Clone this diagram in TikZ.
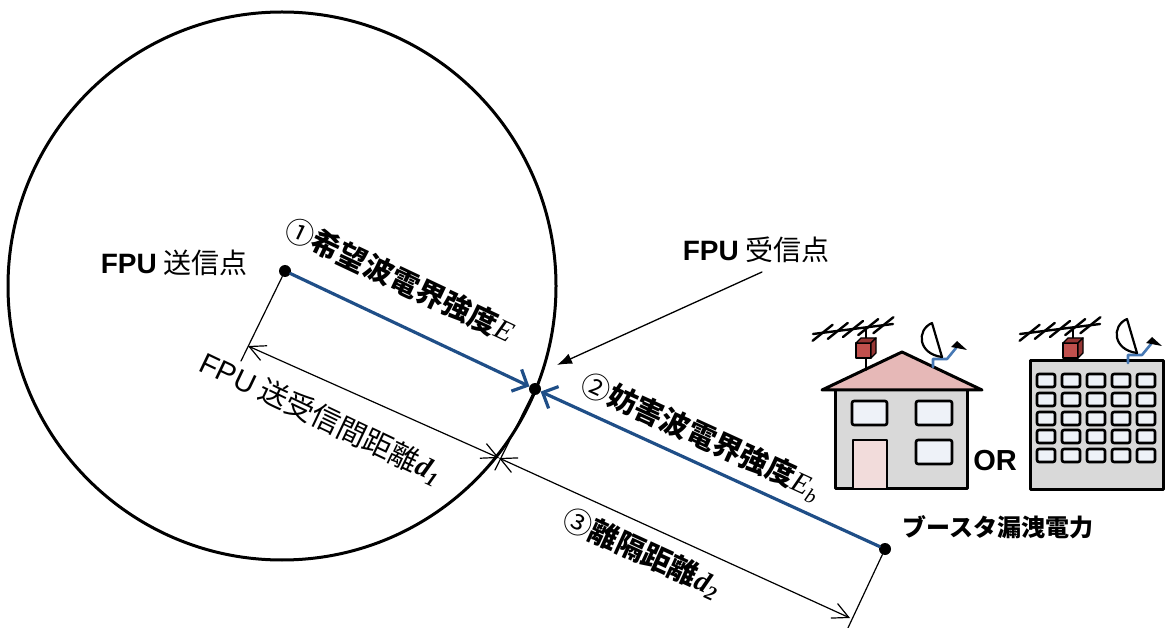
\documentclass[tikz,border=0pt]{standalone}
\usepackage{fontspec}
\newfontfamily\jp{Noto Sans CJK JP}
\newfontfamily\lat{Liberation Sans}
\newfontfamily\sym{Liberation Serif}
\usetikzlibrary{arrows.meta,calc}

\definecolor{wave}{RGB}{31,78,135}
\definecolor{arm}{RGB}{70,120,180}
\definecolor{roof}{RGB}{230,184,183}
\definecolor{wall}{RGB}{217,217,217}
\definecolor{door}{RGB}{242,220,219}
\definecolor{pane}{RGB}{238,242,248}
\definecolor{boxred}{RGB}{192,80,77}
\definecolor{boxdark}{RGB}{150,54,52}

% italic symbols set in a serif face
\newcommand\symE{{\sym\mdseries\itshape E}}
\newcommand\symEb{{\sym\mdseries\itshape E\textsubscript{b}}}
\newcommand\symd[1]{{\sym\bfseries\itshape d\textsubscript{#1}}}
% circled numbers in regular weight
\newcommand\circnum[1]{{\mdseries #1}}

\tikzset{
  dot/.style={circle,fill=black,inner sep=0pt,minimum size=12pt},
  wavearrow/.style={draw=wave,line width=3.2pt,-{Straight Barb[length=12pt,width=24pt]}},
  dimline/.style={line width=1.2pt},
  dimarrow/.style={dimline,{Straight Barb[length=16pt,width=16pt]}-{Straight Barb[length=16pt,width=16pt]}},
  lbl/.style={inner sep=0pt,font=\jp\fontsize{29}{34}\selectfont},
  toplbl/.style={inner sep=0pt,font=\jp\fontsize{28}{33}\selectfont},
  win/.style={line width=2.6pt,fill=pane,rounded corners=2pt},
  wallst/.style={line width=3pt,fill=wall},
}

\begin{document}
\begin{tikzpicture}[x=1pt,y=-1pt,line cap=round,line join=round]
\useasboundingbox (0,0) rectangle (1168,628);

% coverage circle of the transmitter
\draw[line width=3pt] (282,286) circle[radius=274pt];

% transmitter, receiver and booster points
\node[dot] (T) at (285,271) {};
\node[dot] (R) at (535,389) {};
\node[dot] (B) at (885,549) {};

% field strength paths
\draw[wavearrow] (T) -- (R);
\draw[wavearrow] (B) -- (R);

% dimension lines
\coordinate (Te) at (241,361);
\coordinate (Re) at (495,470);
\coordinate (Be) at (847,630);
\coordinate (dT) at (248,346);
\coordinate (dR) at (499,458);
\coordinate (dB) at (850,618);
\draw[dimline] (T) -- (Te);
\draw[dimline] (R) -- (Re);
\draw[dimline] (B) -- (Be);
\draw[dimarrow] (dT) -- (dR);
\draw[dimarrow] (dR) -- (dB);

% point labels
\node[toplbl] (txl) at (174,263) {{\lat\bfseries FPU} 送信点};
\node[toplbl] (rxl) at (756,250) {{\lat\bfseries FPU} 受信点};
\coordinate (rxs) at (762,272);
\coordinate (rxt) at (557,365);
\draw[line width=1.3pt,-{Latex[length=15pt,width=11pt]}] (rxs) -- (rxt);

% path labels
\node[lbl,rotate=-25.3] (l1) at (400,280) {\bfseries \circnum{①}希望波電界強度\symE};
\node[lbl,rotate=-24.6] (l2) at (701,437) {\bfseries \circnum{②}妨害波電界強度\symEb};
\node[lbl,rotate=-25.5] (l3) at (321,418) {{\lat FPU} 送受信間距離\symd{1}};
\node[lbl,rotate=-24.6] (l4) at (642,553) {\bfseries \circnum{③}離隔距離\symd{2}};

% house
\draw[wallst] (835,390) rectangle (967,488);
\draw[line width=3pt,fill=roof] (822,390) -- (902,352) -- (982,390) -- cycle;
\draw[win] (852,401) rectangle (887,425);
\draw[win] (916,401) rectangle (952,425);
\draw[win] (916,440) rectangle (952,464);
\draw[line width=2.6pt,fill=door] (853,488) -- (853,440) -- (887,440) -- (887,488);

% apartment block
\draw[wallst] (1030,361) rectangle (1163,489);
\foreach \cx in {1037,1062,1087,1112,1137}
  \foreach \cy in {374,393,412,430,449}
    \draw[win] (\cx,\cy) rectangle ++(18,13);

% roof antennas: yagi with amplifier box, and dish
\foreach \sx/\mb in {0/370,207/361}{
  \begin{scope}[shift={(\sx,0)}]
    \draw[line width=2pt] (866,330) -- (866,\mb);
    \draw[line width=2.4pt] (813,334) -- (893,324);
    \foreach \t in {0.12,0.31,0.5,0.69,0.88}
      \draw[line width=2.4pt] ($(813,334)!\t!(893,324)+(-10,8)$) -- ($(813,334)!\t!(893,324)+(10,-8)$);
    \draw[line width=1.4pt,fill=boxred] (856,343) rectangle (871,358);
    \draw[line width=1.4pt,fill=boxdark] (856,343) -- (861,338) -- (876,338) -- (871,343) -- cycle;
    \draw[line width=1.4pt,fill=boxdark] (871,343) -- (876,338) -- (876,353) -- (871,358) -- cycle;
  \end{scope}
}
\foreach \sx/\sy in {0/0,195/-4}{
  \begin{scope}[shift={(\sx,\sy)}]
    \draw[arm,line width=2.6pt] (933,367) -- (933,359) -- (947,359) -- (956,348);
    \draw[line width=2.2pt,fill=white] (932,323) .. controls (916,330) and (918,354) .. (942,357) -- cycle;
    \fill (951,347) -- (957,341) -- (967,350) -- cycle;
  \end{scope}
}

\node[font=\lat\bfseries\fontsize{29}{34}\selectfont,inner sep=0pt] (or) at (995,461) {OR};
\node[inner sep=0pt,font=\jp\bfseries\fontsize{24}{28}\selectfont] (leak) at (998,527) {ブースタ漏洩電力};

\end{tikzpicture}
\end{document}
